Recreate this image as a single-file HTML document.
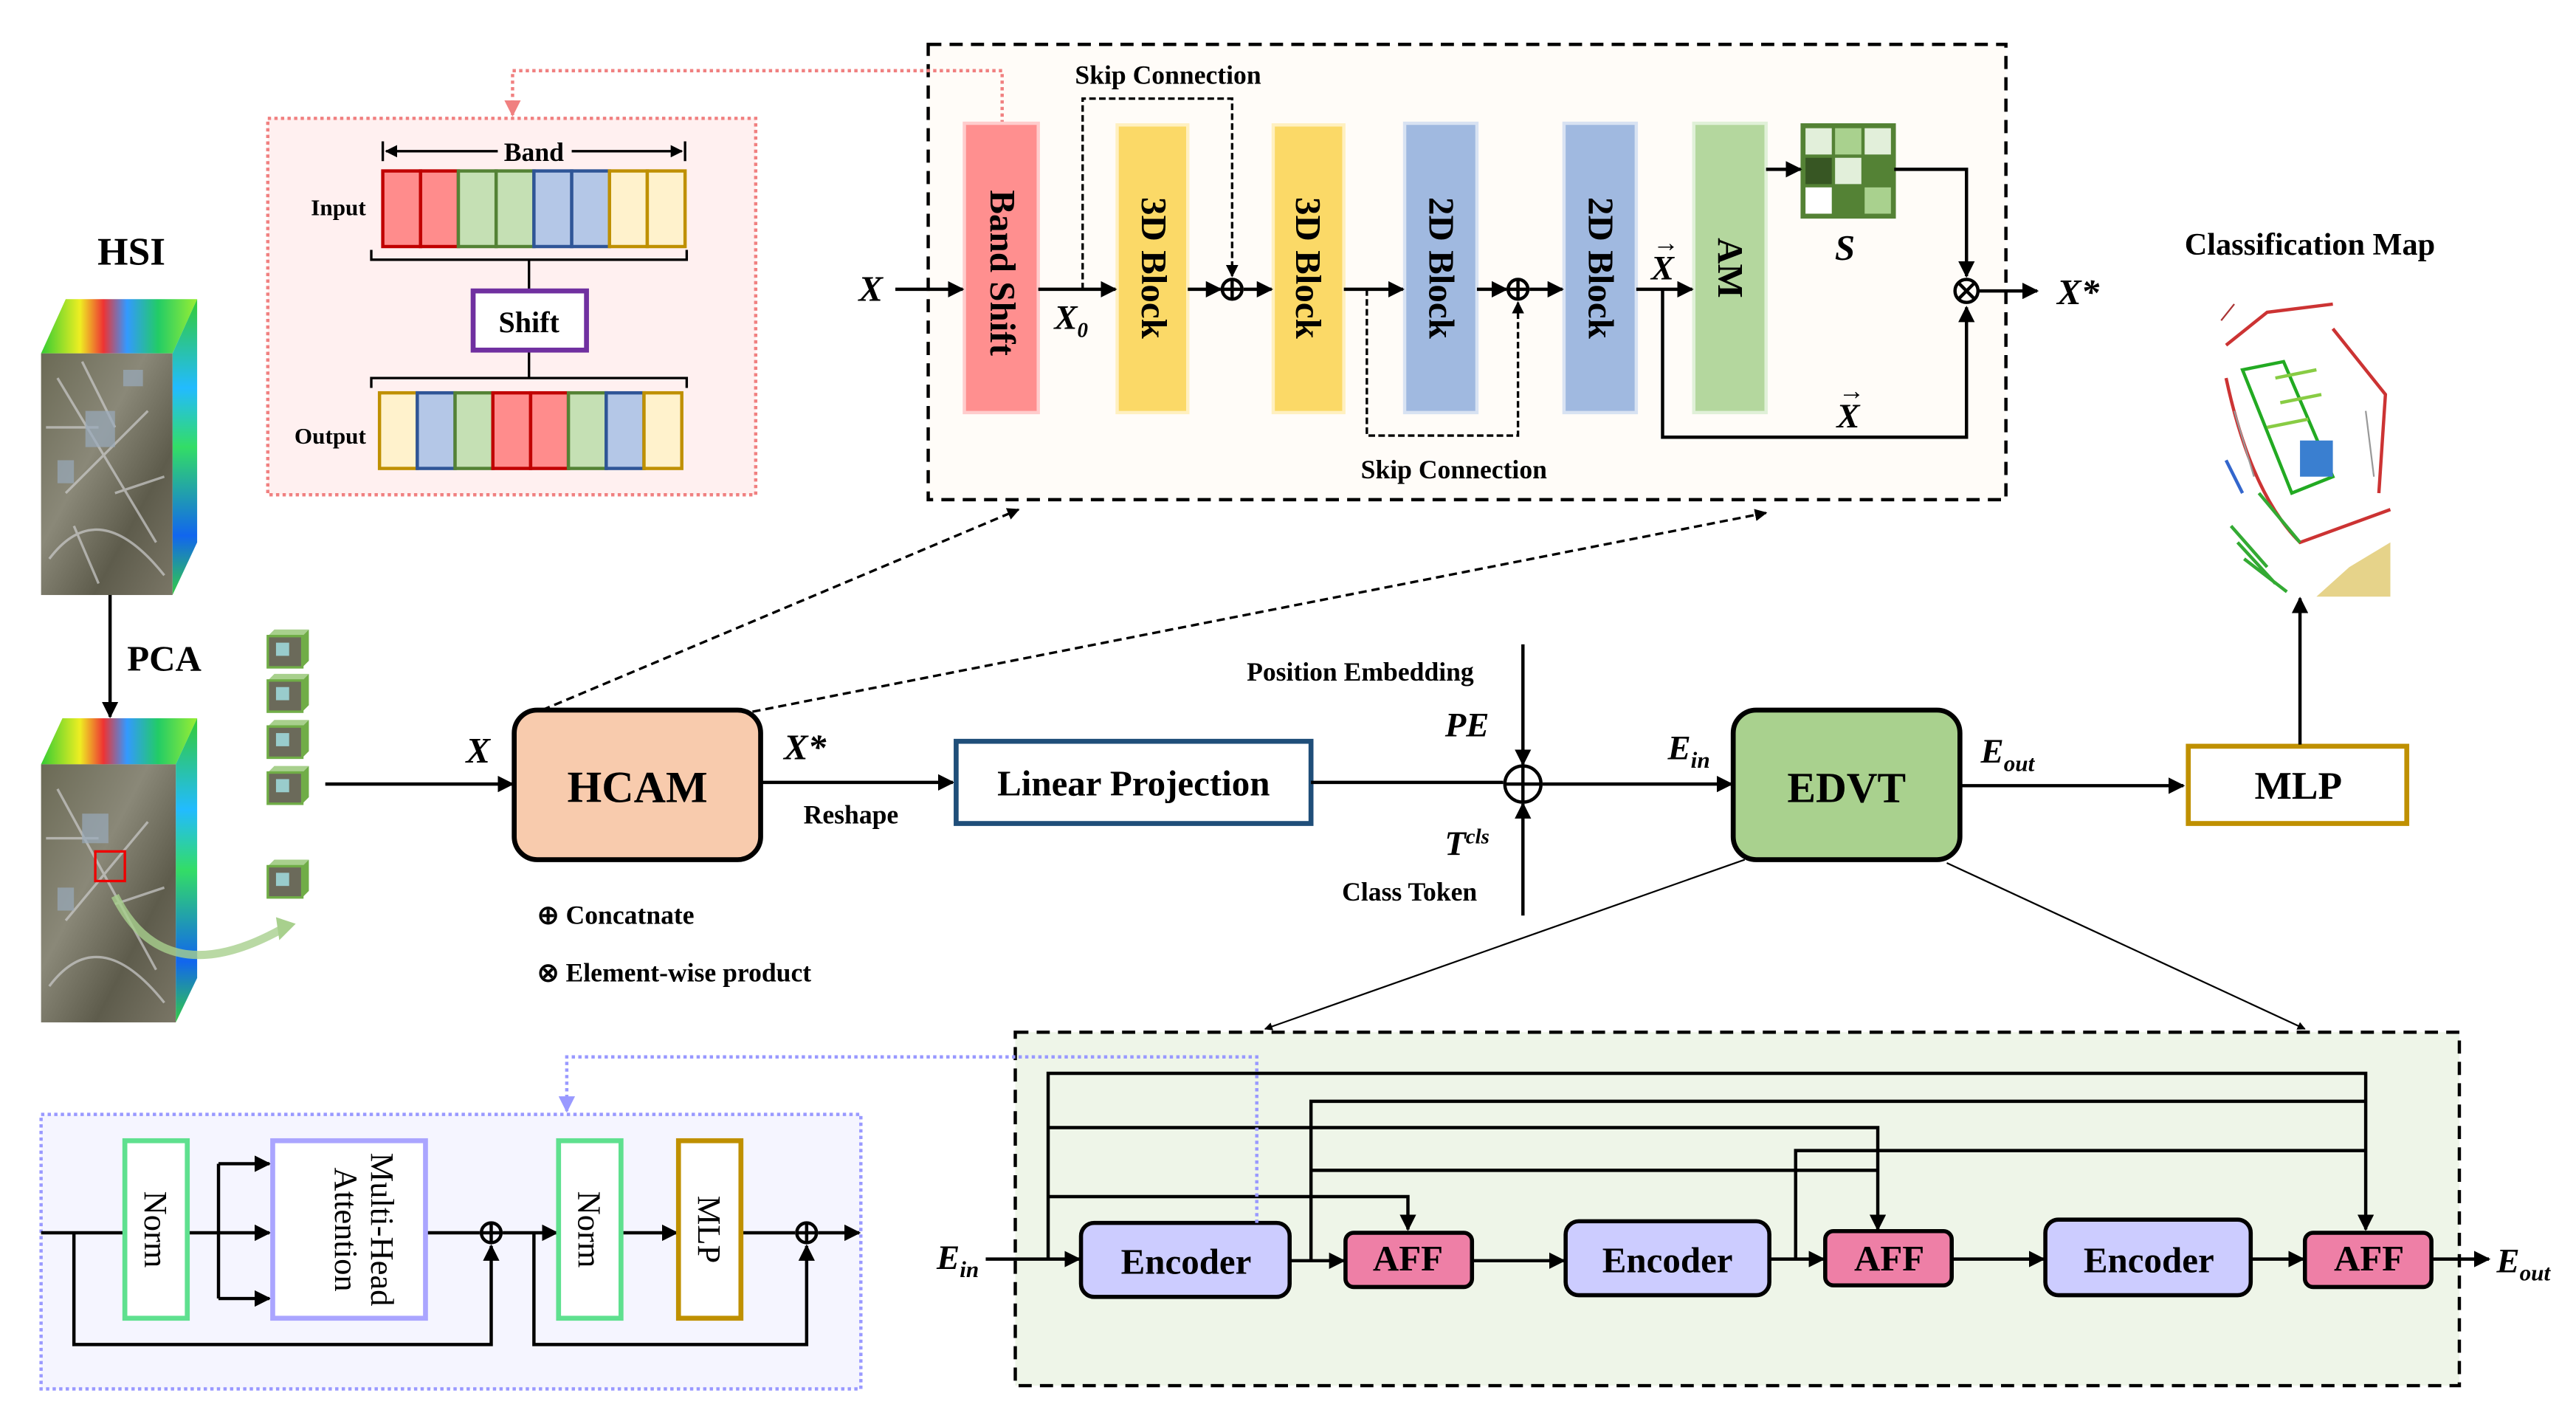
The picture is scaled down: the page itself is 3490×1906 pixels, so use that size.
<!DOCTYPE html>
<html><head><meta charset="utf-8"><style>html,body{margin:0;padding:0;background:#fff}svg{display:block}text{font-family:"Liberation Serif","Times New Roman",serif;font-weight:bold}</style></head><body>
<svg width="3490" height="1906" viewBox="0 0 1568 856" preserveAspectRatio="none" xmlns="http://www.w3.org/2000/svg">
<defs>
<marker id="a" viewBox="0 0 10 10" refX="9" refY="5" markerWidth="5" markerHeight="5" orient="auto"><path d="M0,0L10,5L0,10z" fill="#000"/></marker>
<marker id="ap" viewBox="0 0 10 10" refX="9" refY="5" markerWidth="5" markerHeight="5" orient="auto"><path d="M0,0L10,5L0,10z" fill="#f08080"/></marker>
<marker id="ab" viewBox="0 0 10 10" refX="9" refY="5" markerWidth="5" markerHeight="5" orient="auto"><path d="M0,0L10,5L0,10z" fill="#9999ff"/></marker>
<linearGradient id="spec" x1="0" y1="0" x2="1" y2="0"><stop offset="0" stop-color="#3c3"/><stop offset=".25" stop-color="#ee2"/><stop offset=".4" stop-color="#e33"/><stop offset=".55" stop-color="#39f"/><stop offset=".75" stop-color="#2c6"/><stop offset="1" stop-color="#9e3"/></linearGradient>
<linearGradient id="specv" x1="0" y1="0" x2="0" y2="1"><stop offset="0" stop-color="#3c3"/><stop offset=".3" stop-color="#2bf"/><stop offset=".5" stop-color="#3d6"/><stop offset=".8" stop-color="#16e"/><stop offset="1" stop-color="#3c4"/></linearGradient>
<linearGradient id="photo" x1="0" y1="0" x2="1" y2="1"><stop offset="0" stop-color="#6b6a55"/><stop offset=".4" stop-color="#8a8878"/><stop offset=".7" stop-color="#5e5c4c"/><stop offset="1" stop-color="#7a7666"/></linearGradient>
</defs>

<!-- HSI -->
<text x="80" y="161" font-size="24" text-anchor="middle">HSI</text>
<polygon points="25,215 40,182 120,182 105,215" fill="url(#spec)"/>
<polygon points="105,215 120,182 120,330 105,362" fill="url(#specv)"/>
<rect x="25" y="215" width="80" height="147" fill="url(#photo)"/>
<g stroke="#ccc" stroke-width="1.5" fill="none" opacity=".7"><path d="M35,230 L95,330 M40,300 L90,250 M30,340 Q60,300 100,350 M50,220 L70,260 M28,260 H60 M70,300 L100,290 M45,320 L60,355"/></g>
<g fill="#9ab" opacity=".7"><rect x="52" y="250" width="18" height="22"/><rect x="75" y="225" width="12" height="10"/><rect x="35" y="280" width="10" height="14"/></g>
<line x1="67" y1="362" x2="67" y2="436" stroke="#000" stroke-width="2" marker-end="url(#a)"/>
<text x="100" y="408" font-size="22" text-anchor="middle">PCA</text>
<polygon points="25,465 38,437 120,437 107,465" fill="url(#spec)"/>
<polygon points="107,465 120,437 120,595 107,622" fill="url(#specv)"/>
<rect x="25" y="465" width="82" height="157" fill="url(#photo)"/>
<g stroke="#ccc" stroke-width="1.5" fill="none" opacity=".7"><path d="M35,480 L95,590 M40,560 L90,500 M30,600 Q60,560 100,610 M28,510 H60 M70,550 L100,540"/></g>
<g fill="#9ab" opacity=".7"><rect x="50" y="495" width="16" height="18"/><rect x="35" y="540" width="10" height="14"/></g>
<rect x="58" y="518" width="18" height="18" fill="none" stroke="#e00" stroke-width="1.5"/>
<path d="M70,545 Q100,605 172,565" stroke="#a8d08d" stroke-width="5" fill="none" opacity=".8"/>
<polygon points="168,558 180,562 170,572" fill="#a8d08d"/>
<g>
<g id="sc"><polygon points="163,387 167,383 188,383 184,387" fill="#a8d08d"/><polygon points="184,387 188,383 188,402 184,406" fill="#70ad47"/><rect x="163" y="387" width="21" height="19" fill="#6b6a5a" stroke="#70ad47" stroke-width="1.5"/><rect x="168" y="391" width="8" height="8" fill="#9cc"/></g>
<use href="#sc" y="27"/><use href="#sc" y="55"/><use href="#sc" y="83"/><use href="#sc" y="140"/>
</g>
<line x1="198" y1="477" x2="312" y2="477" stroke="#000" stroke-width="2" marker-end="url(#a)"/>
<text x="291" y="464" font-size="22" font-style="italic" text-anchor="middle">X</text>

<!-- HCAM -->
<rect x="313" y="432" width="150" height="91" rx="14" fill="#f8cbad" stroke="#000" stroke-width="3"/>
<text x="388" y="488" font-size="27" text-anchor="middle">HCAM</text>
<text x="490" y="462" font-size="22" font-style="italic" text-anchor="middle">X*</text>
<text x="518" y="501" font-size="16" text-anchor="middle">Reshape</text>
<line x1="463" y1="476" x2="580" y2="476" stroke="#000" stroke-width="2" marker-end="url(#a)"/>
<text x="327" y="562" font-size="16">⊕ Concatnate</text>
<text x="327" y="597" font-size="16">⊗ Element-wise  product</text>

<rect x="582" y="451" width="216" height="50" fill="#fff" stroke="#1f4e79" stroke-width="3"/>
<text x="690" y="484" font-size="22" text-anchor="middle">Linear Projection</text>
<line x1="798" y1="476" x2="915" y2="476" stroke="#000" stroke-width="2"/>
<circle cx="927" cy="477" r="11" fill="none" stroke="#000" stroke-width="2"/>
<path d="M916,477H938M927,466V488" stroke="#000" stroke-width="2"/>
<text x="828" y="414" font-size="16" text-anchor="middle">Position Embedding</text>
<text x="893" y="448" font-size="21" font-style="italic" text-anchor="middle">PE</text>
<line x1="927" y1="392" x2="927" y2="465" stroke="#000" stroke-width="2" marker-end="url(#a)"/>
<text x="893" y="520" font-size="21" font-style="italic" text-anchor="middle">T<tspan font-size="13" dy="-7">cls</tspan></text>
<text x="858" y="548" font-size="16" text-anchor="middle">Class Token</text>
<line x1="927" y1="557" x2="927" y2="489" stroke="#000" stroke-width="2" marker-end="url(#a)"/>
<line x1="939" y1="477" x2="1054" y2="477" stroke="#000" stroke-width="2" marker-end="url(#a)"/>
<text x="1028" y="462" font-size="21" font-style="italic" text-anchor="middle">E<tspan font-size="14" dy="5">in</tspan></text>

<rect x="1055" y="432" width="138" height="91" rx="14" fill="#a9d18e" stroke="#000" stroke-width="3"/>
<text x="1124" y="488" font-size="26" text-anchor="middle">EDVT</text>
<text x="1222" y="464" font-size="21" font-style="italic" text-anchor="middle">E<tspan font-size="14" dy="5">out</tspan></text>
<line x1="1193" y1="478" x2="1329" y2="478" stroke="#000" stroke-width="2" marker-end="url(#a)"/>
<rect x="1332" y="454" width="133" height="47" fill="#fff" stroke="#bf9000" stroke-width="3"/>
<text x="1399" y="486" font-size="24" text-anchor="middle">MLP</text>
<line x1="1400" y1="453" x2="1400" y2="364" stroke="#000" stroke-width="2" marker-end="url(#a)"/>
<text x="1406" y="155" font-size="19" text-anchor="middle">Classification Map</text>
<!-- map -->
<g fill="none" stroke-width="2">
<path d="M1355,210 L1380,190 L1420,185 M1355,230 Q1370,300 1400,330 L1455,310 M1420,200 L1452,240 L1448,300" stroke="#c33"/>
<path d="M1365,225 L1395,300 L1420,290 L1390,220z" stroke="#2a2"/>
<path d="M1385,230 L1410,225 M1388,245 L1413,240 M1380,260 L1405,255" stroke="#8c4"/>
<path d="M1358,320 L1380,345 M1362,330 L1385,355 M1366,340 L1392,360 M1375,300 L1400,330" stroke="#3a3"/>
<path d="M1360,250 L1372,290 M1440,250 L1445,290" stroke="#999" stroke-width="1"/>
<path d="M1355,280 L1365,300" stroke="#36c"/>
</g>
<rect x="1400" y="268" width="20" height="22" fill="#3a7fd0"/>
<polygon points="1410,363 1455,363 1455,330 1430,345" fill="#e6d38a"/>
<path d="M1352,195 L1360,185" stroke="#a33" stroke-width="1" fill="none"/>

<!-- dashed from HCAM -->
<line x1="330" y1="432" x2="620" y2="310" stroke="#000" stroke-width="1.5" stroke-dasharray="5,3" marker-end="url(#a)"/>
<line x1="458" y1="433" x2="1075" y2="312" stroke="#000" stroke-width="1.5" stroke-dasharray="5,3" marker-end="url(#a)"/>

<!-- Top box -->
<rect x="565" y="27" width="656" height="277" fill="#fffcf8" stroke="#000" stroke-width="2" stroke-dasharray="8,5"/>
<path d="M610,75 V43 H312 V70" fill="none" stroke="#f08080" stroke-width="2" stroke-dasharray="2,2" marker-end="url(#ap)"/>
<rect x="163" y="72" width="297" height="229" fill="#fff0f0" stroke="#f08080" stroke-width="2" stroke-dasharray="2,2"/>
<path d="M233,86V98M417,86V98" stroke="#000" stroke-width="1.5"/>
<line x1="303" y1="92" x2="235" y2="92" stroke="#000" stroke-width="1.5" marker-end="url(#a)"/>
<line x1="348" y1="92" x2="415" y2="92" stroke="#000" stroke-width="1.5" marker-end="url(#a)"/>
<text x="325" y="98" font-size="16" text-anchor="middle">Band</text>
<text x="206" y="131" font-size="14" text-anchor="middle">Input</text>
<g stroke-width="2">
<rect x="233" y="104" width="23" height="46" fill="#ff8c8c" stroke="#c00000"/><rect x="256" y="104" width="23" height="46" fill="#ff8c8c" stroke="#c00000"/>
<rect x="279" y="104" width="23" height="46" fill="#c5e0b4" stroke="#548235"/><rect x="302" y="104" width="23" height="46" fill="#c5e0b4" stroke="#548235"/>
<rect x="325" y="104" width="23" height="46" fill="#b4c7e7" stroke="#2f5597"/><rect x="348" y="104" width="23" height="46" fill="#b4c7e7" stroke="#2f5597"/>
<rect x="371" y="104" width="23" height="46" fill="#fff2cc" stroke="#bf9000"/><rect x="394" y="104" width="23" height="46" fill="#fff2cc" stroke="#bf9000"/>
</g>
<path d="M226,152V158H418V152M322,158V177M322,213V230M226,236V230H418V236" fill="none" stroke="#000" stroke-width="1.5"/>
<rect x="288" y="177" width="69" height="36" fill="#fff" stroke="#7030a0" stroke-width="3"/>
<text x="322" y="202" font-size="18" text-anchor="middle">Shift</text>
<text x="201" y="270" font-size="14" text-anchor="middle">Output</text>
<g stroke-width="2">
<rect x="231" y="239" width="23" height="46" fill="#fff2cc" stroke="#bf9000"/>
<rect x="254" y="239" width="23" height="46" fill="#b4c7e7" stroke="#2f5597"/>
<rect x="277" y="239" width="23" height="46" fill="#c5e0b4" stroke="#548235"/>
<rect x="300" y="239" width="23" height="46" fill="#ff8c8c" stroke="#c00000"/>
<rect x="323" y="239" width="23" height="46" fill="#ff8c8c" stroke="#c00000"/>
<rect x="346" y="239" width="23" height="46" fill="#c5e0b4" stroke="#548235"/>
<rect x="369" y="239" width="23" height="46" fill="#b4c7e7" stroke="#2f5597"/>
<rect x="392" y="239" width="23" height="46" fill="#fff2cc" stroke="#bf9000"/>
</g>

<!-- blocks -->
<rect x="587" y="75" width="45" height="176" fill="#ff8f8f" stroke="#ffcccc" stroke-width="2"/>
<rect x="680" y="76" width="43" height="175" fill="#fbd967" stroke="#fff0c0" stroke-width="2"/>
<rect x="775" y="76" width="43" height="175" fill="#fbd967" stroke="#fff0c0" stroke-width="2"/>
<rect x="855" y="75" width="44" height="176" fill="#a0b9e0" stroke="#d8e2f2" stroke-width="2"/>
<rect x="952" y="75" width="44" height="176" fill="#a0b9e0" stroke="#d8e2f2" stroke-width="2"/>
<rect x="1031" y="75" width="44" height="176" fill="#b4d79e" stroke="#e0f0d8" stroke-width="2"/>
<g font-size="22" text-anchor="middle">
<text transform="translate(603,166) rotate(90)">Band Shift</text>
<text transform="translate(695,163) rotate(90)">3D Block</text>
<text transform="translate(789,163) rotate(90)">3D Block</text>
<text transform="translate(870,163) rotate(90)">2D Block</text>
<text transform="translate(967,163) rotate(90)">2D Block</text>
<text transform="translate(1046,163) rotate(90)">AM</text>
</g>
<!-- S grid -->
<rect x="1097" y="76" width="56" height="56" fill="#548235" stroke="#548235" stroke-width="2"/>
<rect x="1099" y="78" width="16" height="16" fill="#e2efda"/><rect x="1117" y="78" width="16" height="16" fill="#a9d18e"/><rect x="1135" y="78" width="16" height="16" fill="#e2efda"/>
<rect x="1099" y="96" width="16" height="16" fill="#375623"/><rect x="1117" y="96" width="16" height="16" fill="#e2efda"/>
<rect x="1099" y="114" width="16" height="16" fill="#fff"/><rect x="1135" y="114" width="16" height="16" fill="#a9d18e"/>
<text x="1123" y="158" font-size="22" font-style="italic" text-anchor="middle">S</text>

<g stroke="#000" stroke-width="2" fill="none">
<line x1="545" y1="176" x2="586" y2="176" marker-end="url(#a)"/>
<line x1="632" y1="176" x2="679" y2="176" marker-end="url(#a)"/>
<line x1="723" y1="176" x2="743" y2="176" marker-end="url(#a)"/>
<line x1="757" y1="176" x2="774" y2="176" marker-end="url(#a)"/>
<line x1="818" y1="176" x2="854" y2="176" marker-end="url(#a)"/>
<line x1="899" y1="176" x2="917" y2="176" marker-end="url(#a)"/>
<line x1="931" y1="176" x2="951" y2="176" marker-end="url(#a)"/>
<line x1="996" y1="176" x2="1030" y2="176" marker-end="url(#a)"/>
<line x1="1075" y1="103" x2="1096" y2="103" marker-end="url(#a)"/>
<path d="M1153,103H1197V168" marker-end="url(#a)"/>
<path d="M1012,176V266H1197V187" marker-end="url(#a)"/>
<line x1="1204" y1="177" x2="1240" y2="177" marker-end="url(#a)"/>
<circle cx="750" cy="176" r="6"/><path d="M744,176H756M750,170V182"/>
<circle cx="924" cy="176" r="6"/><path d="M918,176H930M924,170V182"/>
<circle cx="1197" cy="177" r="7"/><path d="M1192,172L1202,182M1202,172L1192,182"/>
</g>
<g stroke="#000" stroke-width="1.5" fill="none" stroke-dasharray="4,2">
<path d="M659,176V60H750V168" marker-end="url(#a)"/>
<path d="M832,176V265H924V184" marker-end="url(#a)"/>
</g>
<text x="530" y="183" font-size="22" font-style="italic" text-anchor="middle">X</text>
<text x="652" y="200" font-size="21" font-style="italic" text-anchor="middle">X<tspan font-size="13" dy="5">0</tspan></text>
<text x="1012" y="170" font-size="21" font-style="italic" text-anchor="middle">X</text><text x="1014" y="153" font-size="16" text-anchor="middle">→</text>
<text x="1125" y="260" font-size="21" font-style="italic" text-anchor="middle">X</text><text x="1127" y="243" font-size="16" text-anchor="middle">→</text>
<text x="1265" y="185" font-size="22" font-style="italic" text-anchor="middle">X*</text>
<text x="711" y="51" font-size="16" text-anchor="middle">Skip Connection</text>
<text x="885" y="291" font-size="16" text-anchor="middle">Skip Connection</text>

<!-- EDVT to bottom -->
<line x1="1062" y1="523" x2="770" y2="626" stroke="#000" stroke-width="1" marker-end="url(#a)"/>
<line x1="1185" y1="525" x2="1403" y2="626" stroke="#000" stroke-width="1" marker-end="url(#a)"/>

<!-- Bottom right box -->
<rect x="618" y="628" width="879" height="215" fill="#eef5e8" stroke="#000" stroke-width="2" stroke-dasharray="8,5"/>
<g stroke="#000" stroke-width="2" fill="none">
<path d="M638,766V653H1440V748" marker-end="url(#a)"/>
<path d="M638,686H1143V748" marker-end="url(#a)"/>
<path d="M638,728H857V748" marker-end="url(#a)"/>
<path d="M798,768V670H1440"/>
<path d="M798,712H1143"/>
<path d="M1093,766V700H1440"/>
<line x1="600" y1="766" x2="657" y2="766" marker-end="url(#a)"/>
<line x1="785" y1="767" x2="818" y2="767" marker-end="url(#a)"/>
<line x1="896" y1="767" x2="952" y2="767" marker-end="url(#a)"/>
<line x1="1077" y1="766" x2="1110" y2="766" marker-end="url(#a)"/>
<line x1="1188" y1="766" x2="1244" y2="766" marker-end="url(#a)"/>
<line x1="1370" y1="766" x2="1402" y2="766" marker-end="url(#a)"/>
<line x1="1480" y1="766" x2="1515" y2="766" marker-end="url(#a)"/>
</g>
<g stroke="#000" stroke-width="2.5">
<rect x="658" y="744" width="127" height="45" rx="8" fill="#ccccff"/>
<rect x="953" y="743" width="124" height="45" rx="8" fill="#ccccff"/>
<rect x="1245" y="742" width="125" height="46" rx="8" fill="#ccccff"/>
<rect x="819" y="750" width="77" height="33" rx="5" fill="#ee7fa6"/>
<rect x="1111" y="749" width="77" height="33" rx="5" fill="#ee7fa6"/>
<rect x="1403" y="750" width="77" height="33" rx="5" fill="#ee7fa6"/>
</g>
<g font-size="22" text-anchor="middle">
<text x="722" y="775">Encoder</text>
<text x="1015" y="774">Encoder</text>
<text x="1308" y="774">Encoder</text>
<text x="857" y="773">AFF</text>
<text x="1150" y="773">AFF</text>
<text x="1442" y="773">AFF</text>
</g>
<text x="583" y="772" font-size="21" font-style="italic" text-anchor="middle">E<tspan font-size="14" dy="5">in</tspan></text>
<text x="1536" y="774" font-size="21" font-style="italic" text-anchor="middle">E<tspan font-size="14" dy="5">out</tspan></text>
<path d="M765,744V643H345V676" fill="none" stroke="#9999ff" stroke-width="2" stroke-dasharray="2,2" marker-end="url(#ab)"/>

<!-- Bottom left box -->
<rect x="25" y="678" width="499" height="167" fill="#f5f5ff" stroke="#9999ff" stroke-width="2" stroke-dasharray="2,2"/>
<g stroke="#000" stroke-width="2" fill="none">
<line x1="25" y1="750" x2="75" y2="750"/>
<line x1="114" y1="750" x2="164" y2="750" marker-end="url(#a)"/>
<path d="M133,750V708M133,750V790" />
<line x1="133" y1="708" x2="164" y2="708" marker-end="url(#a)"/>
<line x1="133" y1="790" x2="164" y2="790" marker-end="url(#a)"/>
<line x1="259" y1="750" x2="292" y2="750"/>
<line x1="306" y1="750" x2="339" y2="750" marker-end="url(#a)"/>
<line x1="378" y1="750" x2="412" y2="750" marker-end="url(#a)"/>
<line x1="451" y1="750" x2="484" y2="750"/>
<line x1="498" y1="750" x2="523" y2="750" marker-end="url(#a)"/>
<path d="M45,750V818H299V758" marker-end="url(#a)"/>
<path d="M325,750V818H491V758" marker-end="url(#a)"/>
<circle cx="299" cy="750" r="6"/><path d="M293,750H305M299,744V756"/>
<circle cx="491" cy="750" r="6"/><path d="M485,750H497M491,744V756"/>
</g>
<rect x="76" y="694" width="38" height="108" fill="#fff" stroke="#5fe08f" stroke-width="3"/>
<rect x="166" y="694" width="93" height="108" fill="#fff" stroke="#aaa5ff" stroke-width="3"/>
<rect x="340" y="694" width="38" height="108" fill="#fff" stroke="#5fe08f" stroke-width="3"/>
<rect x="413" y="694" width="38" height="108" fill="#fff" stroke="#bf9000" stroke-width="3"/>
<g font-size="20" text-anchor="middle">
<text transform="translate(88,748) rotate(90)" style="font-weight:normal">Norm</text>
<text transform="translate(214,748) rotate(90)" style="font-weight:normal"><tspan x="0" dy="-12">Multi-Head</tspan><tspan x="0" dy="22">Attention</tspan></text>
<text transform="translate(352,748) rotate(90)" style="font-weight:normal">Norm</text>
<text transform="translate(425,748) rotate(90)" style="font-weight:normal">MLP</text>
</g>
</svg>
</body></html>
